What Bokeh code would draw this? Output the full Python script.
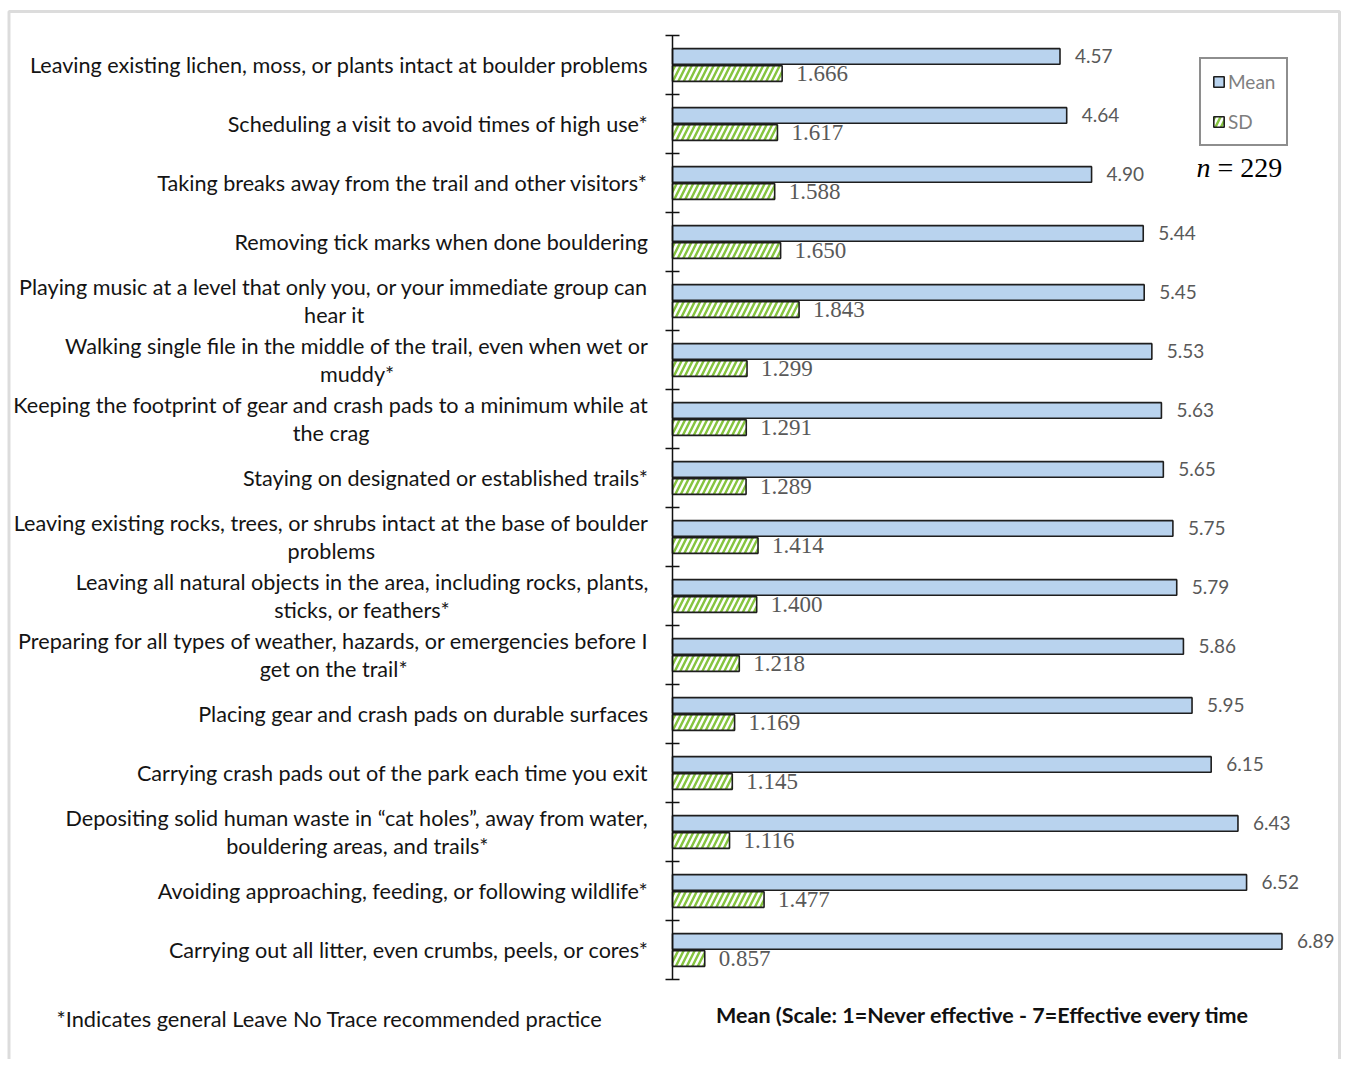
import glob
import subprocess

from bokeh.core.properties import value
from bokeh.embed import file_html
from bokeh.models import (ColumnDataSource, FixedTicker, Label, LabelSet,
                          Legend, LegendItem, PolyAnnotation, Range1d)
from bokeh.plotting import figure
from bokeh.resources import INLINE

# ---------------- data ----------------
categories = [
    "Leaving existing lichen, moss, or plants intact at boulder problems",
    "Scheduling a visit to avoid times of high use*",
    "Taking breaks away from the trail and other visitors*",
    "Removing tick marks when done bouldering",
    "Playing music at a level that only you, or your immediate group can\nhear it",
    "Walking single file in the middle of the trail, even when wet or\nmuddy*",
    "Keeping the footprint of gear and crash pads to a minimum while at\nthe crag",
    "Staying on designated or established trails*",
    "Leaving existing rocks, trees, or shrubs intact at the base of boulder\nproblems",
    "Leaving all natural objects in the area, including rocks, plants,\nsticks, or feathers*",
    "Preparing for all types of weather, hazards, or emergencies before I\nget on the trail*",
    "Placing gear and crash pads on durable surfaces",
    "Carrying crash pads out of the park each time you exit",
    "Depositing solid human waste in \u201ccat holes\u201d, away from water,\nbouldering areas, and trails*",
    "Avoiding approaching, feeding, or following wildlife*",
    "Carrying out all litter, even crumbs, peels, or cores*",
]
mean_values = [4.57, 4.64, 4.90, 5.44, 5.45, 5.53, 5.63, 5.65, 5.75, 5.79,
               5.86, 5.95, 6.15, 6.43, 6.52, 6.89]
sd_values = [1.666, 1.617, 1.588, 1.650, 1.843, 1.299, 1.291, 1.289, 1.414,
             1.400, 1.218, 1.169, 1.145, 1.116, 1.477, 0.857]
series_names = ["Mean", "SD"]
x_axis_title = "Mean (Scale: 1=Never effective - 7=Effective every time"
footnote = "*Indicates general Leave No Trace recommended practice"
sample_symbol = "n"
sample_size = "= 229"

# ---------------- layout constants (pixels) ----------------
W, H = 1341, 1059
AXIS_PX = 672          # pixel column of the value axis
TOP_PX = 35            # top of the category band
BOTTOM_PX = 979        # bottom of the category band
PLOT_RIGHT_PX = 1292   # right end of the value scale
X0, X1 = 0.52, 7.0     # value range shown between AXIS_PX and PLOT_RIGHT_PX
N = len(categories)

KX = (PLOT_RIGHT_PX - AXIS_PX) / (X1 - X0)   # px per value unit
KY = (BOTTOM_PX - TOP_PX) / N                # px per category

LABEL_FONT = "Lato"
LABEL_SIZE = 21.6


def font_path(family, style):
    try:
        out = subprocess.run(["fc-match", "-f", "%{file}", f"{family}:style={style}"],
                             capture_output=True, text=True, timeout=5).stdout.strip()
        if out:
            return out
    except Exception:
        pass
    hits = glob.glob(f"/usr/share/fonts/**/{family}-{style}.ttf", recursive=True)
    return hits[0] if hits else None


_font_cache = {}


def text_width(s, size, family=LABEL_FONT, style="Regular"):
    try:
        from PIL import ImageFont
        key = (family, style)
        if key not in _font_cache:
            _font_cache[key] = ImageFont.truetype(font_path(family, style), 200)
        return _font_cache[key].getlength(s) * size / 200.0
    except Exception:
        return len(s) * 0.47 * size


def xd(px):  # canvas pixel -> data x
    return X0 + (px - AXIS_PX) / KX


def yd(py):  # canvas pixel -> data y
    return (py - TOP_PX) / KY


centers = [i + 0.5 for i in range(N)]
BAR_H = 0.265
source = ColumnDataSource(dict(
    cat=categories,
    mean=mean_values,
    sd=sd_values,
    y_mean=[c - 0.145 for c in centers],
    y_sd=[c + 0.145 for c in centers],
    mean_txt=[f"{v:.2f}" for v in mean_values],
    sd_txt=[f"{v:.3f}" for v in sd_values],
))

# frame covers the whole canvas; the axes are placed at fixed locations
p = figure(width=W, height=H,
           x_range=Range1d(xd(0), xd(W)), y_range=Range1d(yd(H), yd(0)),
           output_backend="svg", toolbar_location=None, min_border=0)
p.outline_line_color = None
p.xgrid.visible = False
p.ygrid.visible = False
p.background_fill_color = "white"
p.border_fill_color = "white"

r_mean = p.hbar(y="y_mean", left=X0, right="mean", height=BAR_H, source=source,
                fill_color="#B9D3EE", line_color="#1E1E1E", line_width=1.6)
r_sd = p.hbar(y="y_sd", left=X0, right="sd", height=BAR_H, source=source,
              fill_color="white", line_color="#1E1E1E", line_width=1.6,
              hatch_pattern="/", hatch_color="#86C440", hatch_scale=11, hatch_weight=2.5)

p.add_layout(LabelSet(x="mean", y="y_mean", text="mean_txt", source=source,
                      x_offset=15, text_baseline="middle", text_align="left",
                      text_font=value("Lato"), text_font_size=value("19px"),
                      text_color="#595959"))
p.add_layout(LabelSet(x="sd", y="y_sd", text="sd_txt", source=source,
                      x_offset=14, text_baseline="middle", text_align="left",
                      text_font=value("Liberation Serif"), text_font_size=value("23px"),
                      text_color="#595959"))

# y axis: line at the start of the scale, ticks at category boundaries
p.yaxis.fixed_location = X0
p.yaxis.bounds = (0, N)
p.yaxis.ticker = FixedTicker(ticks=list(range(N + 1)))
p.yaxis.major_tick_in = 7
p.yaxis.major_tick_out = 7
p.yaxis.major_tick_line_width = 1.5
p.yaxis.major_tick_line_color = "#111111"
p.yaxis.minor_tick_line_color = None
p.yaxis.axis_line_color = "#111111"
p.yaxis.axis_line_width = 1.5
p.yaxis.major_label_text_color = None

# category names (right aligned block, lines centred within it)
for c, name in zip(centers, categories):
    lines = name.split("\n")
    if len(lines) == 1:
        lab = Label(x=X0, y=c, x_offset=-24, text=name, text_align="right",
                    text_baseline="middle")
    else:
        w = max(text_width(t, LABEL_SIZE) for t in lines)
        lab = Label(x=X0, y=c, x_offset=-24 - w / 2.0, text=name, text_align="center",
                    text_baseline="middle", text_line_height=1.04)
    lab.text_font = LABEL_FONT
    lab.text_font_size = f"{LABEL_SIZE}px"
    lab.text_color = "#141414"
    p.add_layout(lab)

# x axis: title only, under the bars, centred on the value scale
p.xaxis.fixed_location = N
p.xaxis.bounds = (X0, X1)
p.xaxis.ticker = FixedTicker(ticks=[])
p.xaxis.axis_line_color = None
p.xaxis.major_tick_line_color = None
p.xaxis.minor_tick_line_color = None
p.xaxis.major_label_standoff = 0
p.xaxis.axis_label = x_axis_title
p.xaxis.axis_label_text_font = "Lato"
p.xaxis.axis_label_text_font_style = "bold"
p.xaxis.axis_label_text_font_size = "21.5px"
p.xaxis.axis_label_text_color = "#111111"
p.xaxis.axis_label_standoff = 22

# legend
legend = Legend(items=[LegendItem(label=series_names[0], renderers=[r_mean]),
                       LegendItem(label=series_names[1], renderers=[r_sd])],
                location=(1199, H - 146), orientation="vertical",
                border_line_color="#1E1E1E", border_line_width=2,
                background_fill_color="white", background_fill_alpha=1,
                label_text_font="Lato", label_text_font_size="19px",
                label_text_color="#7F7F7F", glyph_width=13, glyph_height=13,
                label_standoff=3, spacing=17, padding=11, margin=0,
                label_height=20)
p.add_layout(legend)

# n = 229
p.add_layout(Label(x=xd(1196), y=yd(167), text=sample_symbol, text_align="left",
                   text_baseline="middle", text_font="Liberation Serif",
                   text_font_style="italic", text_font_size="28px", text_color="black"))
p.add_layout(Label(x=xd(1196), y=yd(167), x_offset=21, text=sample_size, text_align="left",
                   text_baseline="middle", text_font="Liberation Serif",
                   text_font_size="28px", text_color="black"))

# footnote
p.add_layout(Label(x=xd(56), y=yd(1018), text=footnote, text_align="left",
                   text_baseline="middle", text_font="Lato", text_font_size="21.8px",
                   text_color="#141414"))

# outer border of the chart
bx = [xd(8.5), xd(8.5), xd(W - 2), xd(W - 2)]
by = [yd(H + 20), yd(11), yd(11), yd(H + 20)]
p.add_layout(PolyAnnotation(xs=bx, ys=by, fill_alpha=0, line_color="#8C8C8C",
                            line_width=3))

open("out.html", "w").write(file_html(p, INLINE))
